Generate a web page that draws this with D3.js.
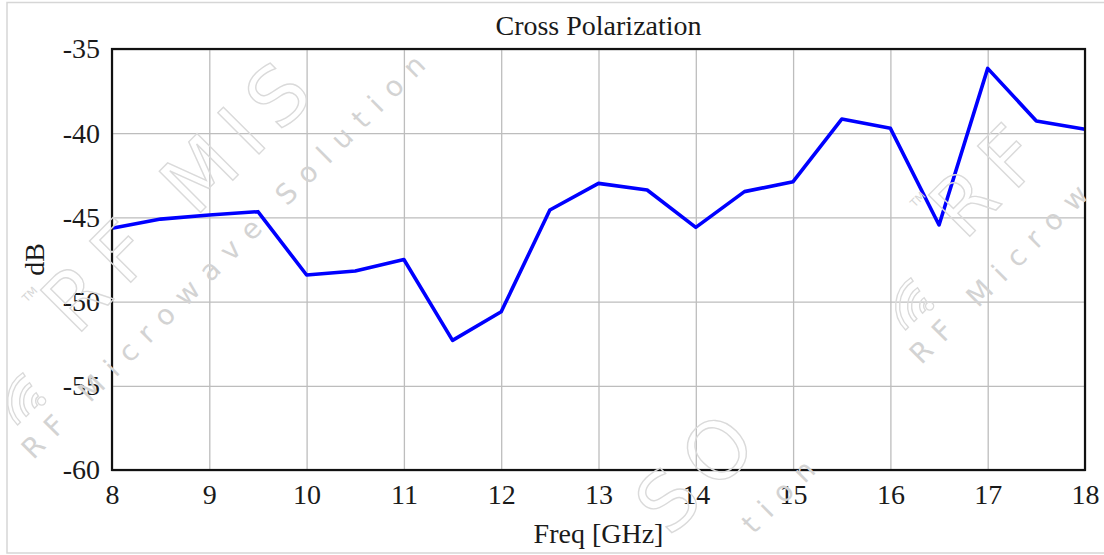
<!DOCTYPE html>
<html>
<head>
<meta charset="utf-8">
<script src="https://cdn.jsdelivr.net/npm/d3@7"></script>
<style>
  body { margin: 0; background: #fff; }
  svg { display: block; }
</style>
</head>
<body>
<div id="chart"></div>
<script>
// Cross polarization, 8-18 GHz in 0.5 GHz steps
const freq = [8, 8.5, 9, 9.5, 10, 10.5, 11, 11.5, 12, 12.5, 13, 13.5, 14, 14.5, 15, 15.5, 16, 16.5, 17, 17.5, 18];
const xpol = [-45.65, -45.1, -44.86, -44.66, -48.42, -48.18, -47.5, -52.3, -50.6, -44.56, -42.98, -43.37,
              -45.59, -43.47, -42.88, -39.16, -39.71, -45.45, -36.15, -39.28, -39.77];
const xTicks = [8, 9, 10, 11, 12, 13, 14, 15, 16, 17, 18];
const yTicks = [-60, -55, -50, -45, -40, -35];

const width = 1104, height = 555;
const margin = { top: 49, right: 19, bottom: 85, left: 112 };
const innerW = width - margin.left - margin.right;
const innerH = height - margin.top - margin.bottom;
const font = '"Liberation Serif", "Times New Roman", serif';
const textColor = '#1a1a1a';

const svg = d3.select('#chart').append('svg')
    .attr('width', width)
    .attr('height', height);

// light outer frame of the image
svg.append('rect')
    .attr('x', 7).attr('y', 2.5)
    .attr('width', 1110).attr('height', 550.5)
    .attr('fill', 'none')
    .attr('stroke', '#d6d6d6')
    .attr('stroke-width', 1.5);

const g = svg.append('g')
    .attr('transform', `translate(${margin.left},${margin.top})`);

const x = d3.scaleLinear().domain([8, 18]).range([0, innerW]);
const y = d3.scaleLinear().domain([-60, -35]).range([innerH, 0]);

// grid
g.append('g')
    .attr('transform', `translate(0,${innerH})`)
    .call(d3.axisBottom(x).tickValues(xTicks).tickSize(-innerH).tickFormat(''))
    .call(s => s.select('.domain').remove())
    .call(s => s.selectAll('line').attr('stroke', '#bdbdbd').attr('stroke-width', 1.3));
g.append('g')
    .call(d3.axisLeft(y).tickValues(yTicks).tickSize(-innerW).tickFormat(''))
    .call(s => s.select('.domain').remove())
    .call(s => s.selectAll('line').attr('stroke', '#bdbdbd').attr('stroke-width', 1.3));

// watermark (faint logo, repeated)
const wmLayer = svg.append('g');

// split a text into single letters and drop the ones that fall outside the picture
function splitLetters(t) {
    const node = t.node();
    const str = node.textContent;
    const parent = d3.select(node.parentNode);
    const yy = t.attr('y');
    const pos = [];
    for (let i = 0; i < str.length; i++) {
        if (str[i] !== ' ') pos.push([str[i], node.getStartPositionOfChar(i).x]);
    }
    pos.forEach(([ch, px]) => {
        const c = parent.append('text')
            .attr('x', px).attr('y', yy)
            .attr('style', t.attr('style'))
            .attr('fill', t.attr('fill'))
            .attr('stroke', t.attr('stroke'))
            .text(ch);
        const b = c.node().getBoundingClientRect();
        if (b.left < 0 || b.top < 0 || b.right > width || b.bottom > height) c.remove();
    });
    t.remove();
}

function watermark(ox, oy) {
    const w = wmLayer.append('g')
        .attr('transform', `translate(${ox},${oy}) rotate(-45)`)
        .attr('fill', 'none')
        .attr('stroke', '#dadada')
        .attr('stroke-width', 1.4);
    const big = w.append('text')
        .attr('x', -30).attr('y', 29)
        .attr('textLength', 415)
        .attr('lengthAdjust', 'spacing')
        .attr('fill', 'none').attr('stroke', '#dadada')
        .style('font-family', '"DejaVu Sans", sans-serif')
        .style('font-size', '80px')
        .text('RF MISO');
    const tm = w.append('text')
        .attr('x', -41).attr('y', -30)
        .attr('stroke', 'none').attr('fill', '#d6d6d6')
        .style('font-family', '"DejaVu Sans", sans-serif')
        .style('font-size', '11px')
        .text('TM');
    [10, 22, 34].forEach(r => {
        w.append('path')
            .attr('transform', 'translate(-100,50)')
            .attr('d', d3.arc()({ innerRadius: r - 4, outerRadius: r, startAngle: -Math.PI / 2, endAngle: 0.2 }));
    });
    w.append('circle').attr('cx', -100).attr('cy', 50).attr('r', 4);
    const sub = w.append('text')
        .attr('x', -148).attr('y', 86)
        .attr('textLength', 557)
        .attr('lengthAdjust', 'spacing')
        .attr('stroke', 'none').attr('fill', '#d3d3d3')
        .style('font-family', '"DejaVu Sans", sans-serif')
        .style('font-size', '28px')
        .text('RF Microwave Solution');
    [big, tm, sub].forEach(splitLetters);
}
watermark(77, 295);
watermark(467, 700);
watermark(965, 200);

// data line
const line = d3.line()
    .x((d, i) => x(freq[i]))
    .y(d => y(d));

g.append('path')
    .datum(xpol)
    .attr('fill', 'none')
    .attr('stroke', '#0000ff')
    .attr('stroke-width', 3.6)
    .attr('stroke-linejoin', 'round')
    .attr('d', line);

// frame
g.append('rect')
    .attr('width', innerW).attr('height', innerH)
    .attr('fill', 'none')
    .attr('stroke', '#111')
    .attr('stroke-width', 2.2);

// tick labels (plain hyphen like the reference)
const xAxis = g.append('g')
    .attr('transform', `translate(0,${innerH})`)
    .call(d3.axisBottom(x).tickValues(xTicks).tickSize(0).tickPadding(14).tickFormat(d => String(d)));
const yAxis = g.append('g')
    .call(d3.axisLeft(y).tickValues(yTicks).tickSize(0).tickPadding(12).tickFormat(d => String(d)));
[xAxis, yAxis].forEach(a => {
    a.select('.domain').remove();
    a.selectAll('text')
        .style('font-family', font)
        .style('font-size', '28px')
        .attr('fill', textColor);
});

// titles
svg.append('text')
    .attr('x', margin.left + innerW / 2).attr('y', 35)
    .attr('text-anchor', 'middle')
    .style('font-family', font).style('font-size', '28px')
    .attr('fill', textColor)
    .text('Cross Polarization');

svg.append('text')
    .attr('x', margin.left + innerW / 2).attr('y', 543)
    .attr('text-anchor', 'middle')
    .style('font-family', font).style('font-size', '28px')
    .attr('fill', textColor)
    .text('Freq [GHz]');

svg.append('text')
    .attr('transform', `translate(44,${margin.top + innerH / 2}) rotate(-90)`)
    .attr('text-anchor', 'middle')
    .style('font-family', font).style('font-size', '28px')
    .attr('fill', textColor)
    .text('dB');
</script>
</body>
</html>
